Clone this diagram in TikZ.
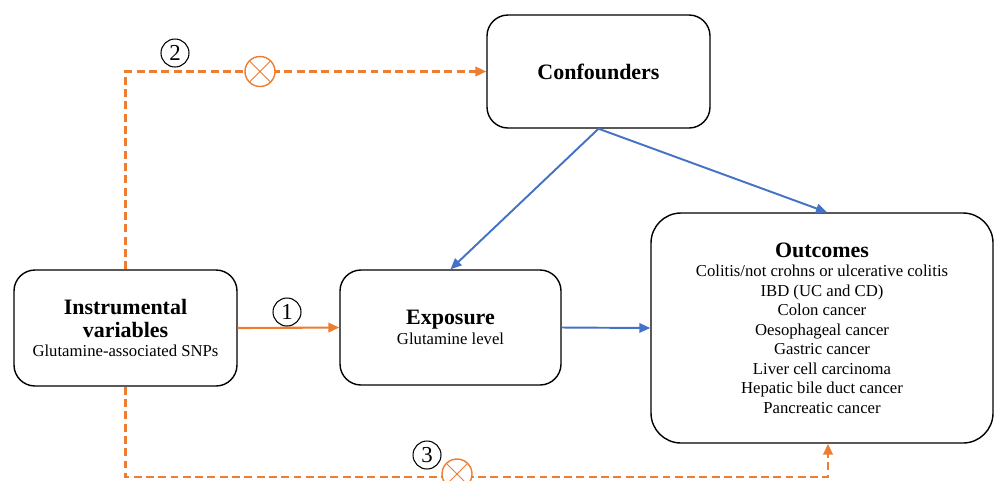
\documentclass[tikz,border=0pt]{standalone}
\usepackage{fontspec}
\setmainfont{Liberation Serif}
\usetikzlibrary{arrows.meta}
\definecolor{pathorange}{HTML}{ED7D31}
\definecolor{confblue}{HTML}{4472C4}
\tikzset{
  varbox/.style={draw, rounded corners=0.42cm, line width=0.8pt, align=center,
    font=\fontsize{9.5}{11.1}\selectfont},
  orarr/.style={-{Triangle[length=2.2mm,width=1.9mm]}, line width=1.2pt, draw=pathorange},
  dasharr/.style={orarr, line width=1.4pt, dash pattern=on 4.5pt off 2.5pt},
  bluearr/.style={-{Triangle[length=2.2mm,width=1.9mm]}, line width=1.1pt, draw=confblue},
  numcirc/.style={circle, draw, line width=0.6pt, minimum size=0.56cm, inner sep=0pt,
    font=\fontsize{13}{13}\selectfont},
  blocked/.style={circle, draw=pathorange, line width=0.8pt, minimum size=0.6cm, inner sep=0pt,
    fill=white, path picture={
      \draw[pathorange, line width=0.5pt]
        (path picture bounding box.north west) -- (path picture bounding box.south east)
        (path picture bounding box.north east) -- (path picture bounding box.south west);}}
}
\newcommand{\boxtitle}[1]{{\bfseries\fontsize{12.5}{14.5}\selectfont #1}}
\begin{document}
\begin{tikzpicture}
  \useasboundingbox (0,0) rectangle (19.9,-9.6);
  % variable boxes
  \node[varbox, minimum width=4.46cm, minimum height=2.26cm] (conf) at (11.97,-1.43)
    {\boxtitle{Confounders}};
  \node[varbox, minimum width=4.46cm, minimum height=2.32cm] (iv) at (2.51,-6.56)
    {\boxtitle{Instrumental}\\[2pt]\boxtitle{variables}\\Glutamine-associated SNPs};
  \node[varbox, minimum width=4.42cm, minimum height=2.3cm] (expo) at (9.01,-6.55)
    {\boxtitle{Exposure}\\Glutamine level};
  \node[varbox, rounded corners=0.6cm, minimum width=6.84cm, minimum height=4.6cm] (outc) at (16.44,-6.56)
    {\boxtitle{Outcomes}\\Colitis/not crohns or ulcerative colitis\\IBD (UC and CD)\\Colon cancer\\
     Oesophageal cancer\\Gastric cancer\\Liver cell carcinoma\\Hepatic bile duct cancer\\Pancreatic cancer};

  % confounding paths
  \draw[bluearr] (conf.south) -- (expo.north);
  \draw[bluearr] (conf.south) -- ([xshift=0.1cm]outc.north);
  \draw[bluearr] (expo.east) -- (outc.west);

  % IV assumptions
  \draw[orarr] (iv.east) -- (expo.west);
  \draw[dasharr] (iv.north) |- (conf.west);
  \coordinate (low) at (16.56,-9.54);
  \draw[dasharr] (iv.south) |- (low) -- (low |- outc.south);

  \node[blocked] (blk2) at (5.2,-1.43) {};
  \node[blocked] (blk3) at (9.14,-9.48) {};
  \node[numcirc] (n1) at (5.74,-6.24) {1};
  \node[numcirc] (n2) at (3.5,-1.06) {2};
  \node[numcirc] (n3) at (8.54,-9.1) {3};
\end{tikzpicture}
\end{document}
